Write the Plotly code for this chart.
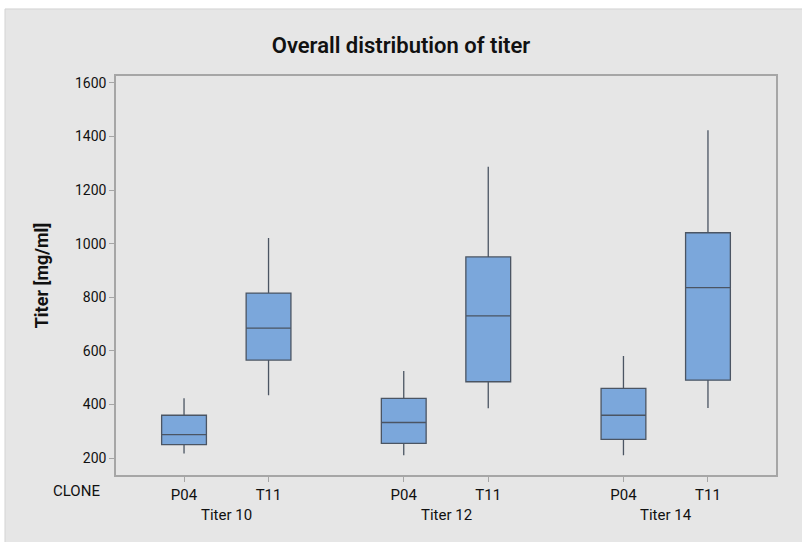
import plotly.graph_objects as go

# Summary statistics of titer per clone and titer condition
clones = ["P04", "T11", "P04", "T11", "P04", "T11"]
conditions = ["Titer 10", "Titer 12", "Titer 14"]
x_pos = [1.0, 2.0, 3.6, 4.6, 6.2, 7.2]
lower_whisker = [217, 435, 211, 386, 211, 387]
q1 = [250, 566, 255, 485, 270, 491]
median = [288, 685, 333, 731, 360, 836]
q3 = [360, 816, 423, 951, 460, 1041]
upper_whisker = [423, 1021, 525, 1287, 581, 1424]
y_ticks = [200, 400, 600, 800, 1000, 1200, 1400, 1600]

FONT = "Roboto"
TEXT = "#111111"
PLOT_H = 399

fig = go.Figure()
fig.add_trace(go.Box(
    x=x_pos,
    q1=q1,
    median=median,
    q3=q3,
    lowerfence=lower_whisker,
    upperfence=upper_whisker,
    width=0.53,
    whiskerwidth=0,
    fillcolor="#7ba7db",
    line=dict(color="#4b5563", width=1.3),
    boxpoints=False,
    hoverinfo="skip",
    showlegend=False,
))

annotations = []
# condition labels under each pair of boxes
for i, name in enumerate(conditions):
    cx = (x_pos[2 * i] + x_pos[2 * i + 1]) / 2
    annotations.append(dict(x=cx, y=-40 / PLOT_H, xref="x", yref="paper",
                            yanchor="middle", text=name, showarrow=False,
                            font=dict(family=FONT, size=15, color=TEXT)))
annotations.append(dict(x=-40 / 660, y=-16 / PLOT_H, xref="paper", yref="paper",
                        xanchor="center", yanchor="middle",
                        text="CLONE", showarrow=False,
                        font=dict(family=FONT, size=15, color=TEXT)))

fig.update_layout(
    width=802, height=542,
    margin=dict(l=116, r=26, t=76, b=67),
    paper_bgcolor="white",
    plot_bgcolor="white",
    title=dict(text="Overall distribution of titer", x=0.5, xanchor="center",
               y=1 - 45 / 542, yanchor="middle",
               font=dict(family=FONT, size=22, weight=600, color=TEXT)),
    xaxis=dict(range=[0.195, 8.005], tickvals=x_pos, ticktext=clones,
               ticks="outside", ticklen=5, tickcolor="#a6a6a6",
               showgrid=False, zeroline=False, showline=True, mirror=True,
               linecolor="#a6a6a6", linewidth=1.5,
               tickfont=dict(family=FONT, size=15, color=TEXT)),
    yaxis=dict(range=[137, 1626], tickvals=y_ticks,
               ticks="outside", ticklen=5, tickcolor="#a6a6a6",
               showgrid=False, zeroline=False, showline=True, mirror=True,
               linecolor="#a6a6a6", linewidth=1.5,
               tickfont=dict(family=FONT, size=14, color=TEXT),
               title=dict(text="<b>Titer [mg/ml]</b>", standoff=22,
                          font=dict(family=FONT, size=18, color=TEXT))),
    annotations=annotations,
    shapes=[dict(type="rect", xref="paper", yref="paper", layer="below",
                 x0=-0.1682, x1=1.05, y0=-0.2, y1=1.168,
                 fillcolor="#e6e6e6", line=dict(color="#d4d4d4", width=1))],
)

fig.write_html("out.html")
